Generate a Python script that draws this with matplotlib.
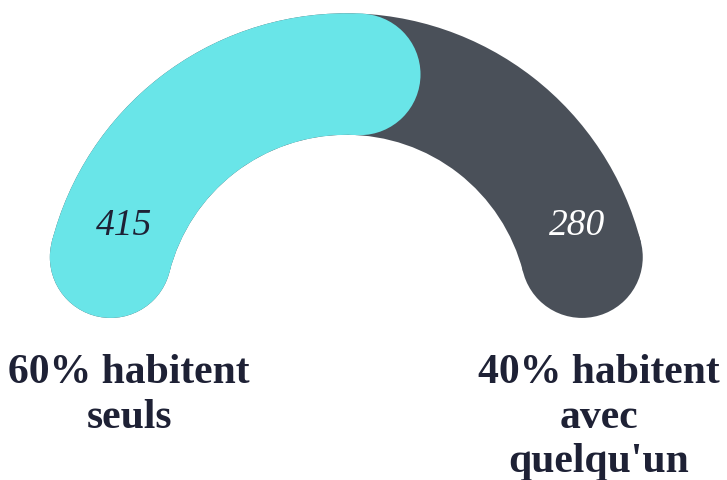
import numpy as np
import matplotlib
matplotlib.use("Agg")
import matplotlib.pyplot as plt
from matplotlib.patches import Wedge, Circle

# donnees
valeurs = [415, 280]
couleurs = ["#69E5E8", "#4A5059"]
couleurs_valeur = ["#1E2135", "#FFFFFF"]
libelles = [["60% habitent", "seuls"], ["40% habitent", "avec", "quelqu'un"]]

# geometrie de la jauge (en pixels, axe y vers le haut)
W, H = 727, 480
cx, cy = 346.3, H - 317.3
r_ext = 304.0
epaisseur = 121.5
r_mil = r_ext - epaisseur / 2
r_cap = epaisseur / 2
cap_deg = np.degrees(r_cap / r_mil)

fig = plt.figure(figsize=(W / 100, H / 100), dpi=100)
ax = fig.add_axes([0, 0, 1, 1])
ax.set_xlim(0, W)
ax.set_ylim(0, H)
ax.axis("off")


def segment(a_debut, a_fin, couleur):
    # arc entre deux centres de bouts arrondis
    ax.add_patch(Wedge((cx, cy), r_ext, a_fin, a_debut, width=epaisseur,
                       color=couleur, lw=0))
    for a in (a_debut, a_fin):
        t = np.radians(a)
        ax.add_patch(Circle((cx + r_mil * np.cos(t), cy + r_mil * np.sin(t)),
                            r_cap, color=couleur, lw=0))


total = sum(valeurs)
fin_cyan = 180 - 180 * valeurs[0] / total

# fond gris sur toute la jauge, puis la part "seuls" par dessus
segment(180 - cap_deg, 0 + cap_deg, couleurs[1])
segment(180 - cap_deg, fin_cyan + cap_deg, couleurs[0])

# valeurs dans l'arc
ax.text(124, H - 235, str(valeurs[0]), ha="center", va="baseline",
        family="Liberation Serif", style="italic", fontsize=27,
        color=couleurs_valeur[0])
ax.text(577, H - 235, str(valeurs[1]), ha="center", va="baseline",
        family="Liberation Serif", style="italic", fontsize=27,
        color=couleurs_valeur[1])

# libelles sous la jauge
for x0, lignes in zip([129, 599], libelles):
    for i, ligne in enumerate(lignes):
        ax.text(x0, H - (383 + 44.5 * i), ligne, ha="center", va="baseline",
                family="Liberation Serif", weight="bold", fontsize=30,
                color="#1E2135")

plt.savefig("out.png", dpi=100)
